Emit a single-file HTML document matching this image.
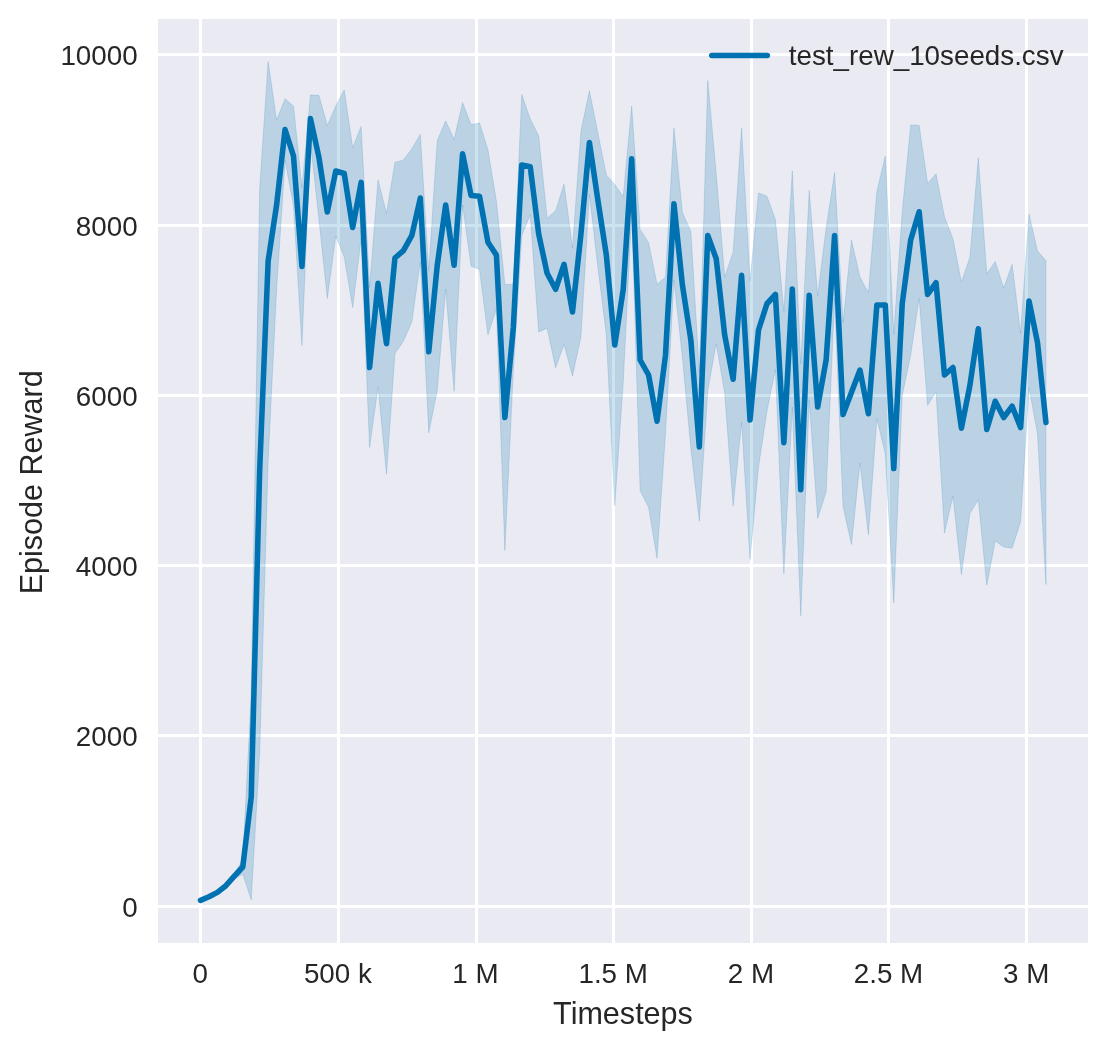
<!DOCTYPE html>
<html lang="en"><head><meta charset="utf-8"><title>Episode Reward vs Timesteps</title>
<style>html,body{margin:0;padding:0;background:#fff}body{width:1108px;height:1050px;overflow:hidden}</style></head>
<body>
<svg width="1108" height="1050" viewBox="0 0 1108 1050" style="display:block">
<rect x="0" y="0" width="1108" height="1050" fill="#ffffff"/>
<rect x="158" y="19" width="930" height="924" fill="#eaeaf2"/>
<g fill="#ffffff" shape-rendering="crispEdges">
<rect x="199" y="19" width="3" height="924"/>
<rect x="337" y="19" width="3" height="924"/>
<rect x="475" y="19" width="3" height="924"/>
<rect x="612" y="19" width="3" height="924"/>
<rect x="750" y="19" width="3" height="924"/>
<rect x="887" y="19" width="3" height="924"/>
<rect x="1025" y="19" width="3" height="924"/>
<rect x="158" y="53" width="930" height="3"/>
<rect x="158" y="224" width="930" height="3"/>
<rect x="158" y="394" width="930" height="3"/>
<rect x="158" y="564" width="930" height="3"/>
<rect x="158" y="734" width="930" height="3"/>
<rect x="158" y="905" width="930" height="3"/>
</g>
<clipPath id="ax"><rect x="158" y="19" width="930" height="924"/></clipPath>
<g clip-path="url(#ax)">
<polygon points="200.50,898.90 208.95,895.30 217.41,890.90 225.86,883.70 234.32,873.20 242.77,860.00 251.23,694.00 259.68,188.00 268.14,61.50 276.59,120.00 285.04,98.80 293.50,106.00 301.95,187.50 310.41,95.10 318.86,95.30 327.32,125.50 335.77,106.00 344.23,90.00 352.68,147.50 361.14,126.40 369.59,287.50 378.04,179.80 386.50,213.30 394.95,162.50 403.41,160.00 411.86,148.80 420.32,134.40 428.77,270.75 437.23,140.50 445.68,121.00 454.13,139.30 462.59,102.50 471.04,124.80 479.50,123.00 487.95,149.80 496.41,201.10 504.86,284.50 513.32,284.50 521.77,94.50 530.23,118.75 538.68,136.00 547.13,218.30 555.59,210.80 564.04,184.10 572.50,248.00 580.95,131.00 589.41,90.75 597.86,133.00 606.32,175.00 614.77,184.50 623.22,196.50 631.68,106.05 640.13,229.40 648.59,242.50 657.04,284.25 665.50,277.00 673.95,127.75 682.41,212.50 690.86,231.25 699.32,372.75 707.77,80.50 716.22,173.75 724.68,277.00 733.13,252.25 741.59,128.10 750.04,280.70 758.50,193.00 766.95,196.25 775.41,219.50 783.86,311.40 792.31,171.00 800.77,363.70 809.22,190.20 817.68,295.50 826.13,228.00 834.59,172.50 843.04,322.50 851.50,240.00 859.95,277.00 868.41,292.75 876.86,191.50 885.31,156.00 893.77,334.00 902.22,211.75 910.68,125.00 919.13,125.25 927.59,183.50 936.04,173.70 944.50,217.00 952.95,238.80 961.40,281.90 969.86,257.60 978.31,157.75 986.77,273.70 995.22,261.50 1003.68,288.10 1012.13,264.35 1020.59,333.10 1029.04,214.20 1037.50,251.00 1045.95,260.50 1045.95,584.50 1037.50,434.00 1029.04,387.80 1020.59,521.90 1012.13,548.15 1003.68,546.90 995.22,541.00 986.77,585.30 978.31,499.75 969.86,513.60 961.40,574.50 952.95,496.20 944.50,533.00 936.04,391.70 927.59,405.50 919.13,298.25 910.68,355.00 902.22,395.75 893.77,603.00 885.31,454.00 876.86,418.50 868.41,534.75 859.95,463.00 851.50,544.50 843.04,506.50 834.59,298.50 826.13,492.00 817.68,518.50 809.22,400.20 800.77,615.70 792.31,407.00 783.86,574.00 775.41,369.50 766.95,411.25 758.50,467.00 750.04,559.30 741.59,422.50 733.13,506.25 724.68,393.00 716.22,343.75 707.77,390.50 699.32,521.25 690.86,448.75 682.41,357.50 673.95,279.75 665.50,433.00 657.04,558.25 648.59,507.50 640.13,490.60 631.68,211.45 623.22,382.50 614.77,505.50 606.32,335.00 597.86,267.00 589.41,194.25 580.95,337.00 572.50,376.00 564.04,344.50 555.59,367.80 547.13,328.30 538.68,332.00 530.23,214.75 521.77,235.50 513.32,370.50 504.86,550.50 496.41,309.10 487.95,334.80 479.50,269.40 471.04,266.00 462.59,205.00 454.13,391.30 445.68,289.00 437.23,390.50 428.77,432.75 420.32,261.60 411.86,321.80 403.41,341.20 394.95,353.50 386.50,474.10 378.04,386.80 369.59,447.50 361.14,238.40 352.68,307.50 344.23,257.00 335.77,236.00 327.32,298.50 318.86,218.70 310.41,142.10 301.95,345.50 293.50,206.00 285.04,160.20 276.59,290.00 268.14,460.50 259.68,752.00 251.23,900.00 242.77,874.00 234.32,879.20 225.86,887.70 217.41,893.90 208.95,898.30 200.50,901.90" fill="#0072b2" fill-opacity="0.2" stroke="#0072b2" stroke-opacity="0.2" stroke-width="0.83" stroke-linejoin="miter"/>
<polyline points="200.50,900.40 208.95,896.80 217.41,892.40 225.86,885.70 234.32,876.20 242.77,867.00 251.23,797.00 259.68,470.00 268.14,261.00 276.59,205.00 285.04,129.50 293.50,156.00 301.95,266.50 310.41,118.60 318.86,157.00 327.32,212.00 335.77,171.00 344.23,173.50 352.68,227.50 361.14,182.40 369.59,367.50 378.04,283.30 386.50,343.70 394.95,258.00 403.41,250.60 411.86,235.30 420.32,198.00 428.77,351.75 437.23,265.50 445.68,205.00 454.13,265.30 462.59,153.75 471.04,195.40 479.50,196.20 487.95,242.30 496.41,255.10 504.86,417.50 513.32,327.50 521.77,165.00 530.23,166.75 538.68,234.00 547.13,273.30 555.59,289.30 564.04,264.30 572.50,312.00 580.95,234.00 589.41,142.50 597.86,200.00 606.32,255.00 614.77,345.00 623.22,289.50 631.68,158.75 640.13,360.00 648.59,375.00 657.04,421.25 665.50,355.00 673.95,203.75 682.41,285.00 690.86,340.00 699.32,447.00 707.77,235.50 716.22,258.75 724.68,335.00 733.13,379.25 741.59,275.30 750.04,420.00 758.50,330.00 766.95,303.75 775.41,294.50 783.86,442.70 792.31,289.00 800.77,489.70 809.22,295.20 817.68,407.00 826.13,360.00 834.59,235.50 843.04,414.50 851.50,392.25 859.95,370.00 868.41,413.75 876.86,305.00 885.31,305.00 893.77,468.50 902.22,303.75 910.68,240.00 919.13,211.75 927.59,294.50 936.04,282.70 944.50,375.00 952.95,367.50 961.40,428.20 969.86,385.60 978.31,328.75 986.77,429.50 995.22,401.25 1003.68,417.50 1012.13,406.25 1020.59,427.50 1029.04,301.00 1037.50,342.50 1045.95,422.50" fill="none" stroke="#0072b2" stroke-width="5.56" stroke-linejoin="round" stroke-linecap="round"/>
</g>
<line x1="711.8" y1="55.5" x2="767.3" y2="55.5" stroke="#0072b2" stroke-width="5.56" stroke-linecap="round"/>
<g font-family="'Liberation Sans', Arial, sans-serif" fill="#262626">
<text x="788.8" y="64.9" font-size="27.78">test_rew_10seeds.csv</text>
<text x="200.2" y="983.2" font-size="27.78" text-anchor="middle">0</text>
<text x="337.9" y="983.2" font-size="27.78" text-anchor="middle">500 k</text>
<text x="475.5" y="983.2" font-size="27.78" text-anchor="middle">1 M</text>
<text x="613.2" y="983.2" font-size="27.78" text-anchor="middle">1.5 M</text>
<text x="750.9" y="983.2" font-size="27.78" text-anchor="middle">2 M</text>
<text x="888.5" y="983.2" font-size="27.78" text-anchor="middle">2.5 M</text>
<text x="1026.2" y="983.2" font-size="27.78" text-anchor="middle">3 M</text>
<text x="137.6" y="64.9" font-size="27.78" text-anchor="end">10000</text>
<text x="137.6" y="235.9" font-size="27.78" text-anchor="end">8000</text>
<text x="137.6" y="405.9" font-size="27.78" text-anchor="end">6000</text>
<text x="137.6" y="575.9" font-size="27.78" text-anchor="end">4000</text>
<text x="137.6" y="745.9" font-size="27.78" text-anchor="end">2000</text>
<text x="137.6" y="916.9" font-size="27.78" text-anchor="end">0</text>
<text x="623" y="1024" font-size="30.56" text-anchor="middle">Timesteps</text>
<text transform="translate(41.7,482.3) rotate(-90)" font-size="30.56" text-anchor="middle">Episode Reward</text>
</g>
</svg>
</body></html>
